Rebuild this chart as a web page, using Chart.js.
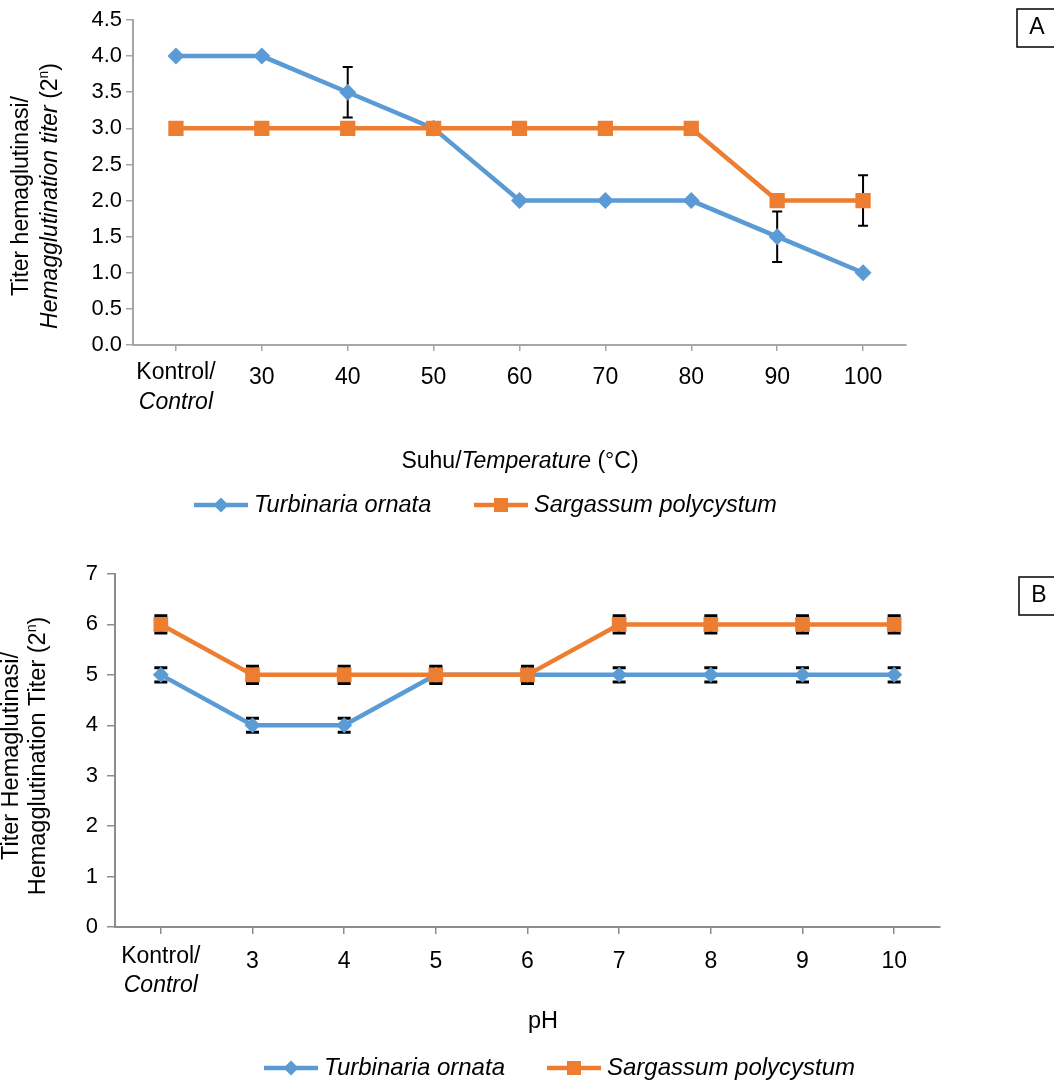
<!DOCTYPE html>
<html><head><meta charset="utf-8">
<script src="https://cdn.jsdelivr.net/npm/chart.js@4"></script>
<style>
html,body{margin:0;padding:0;background:#fff;width:1054px;height:1083px;overflow:hidden}
canvas{position:absolute;left:0}
#ca{top:0}
#cb{top:545px}
</style></head><body>
<canvas id="ca" width="1054" height="545"></canvas>
<canvas id="cb" width="1054" height="538"></canvas>
<script>
// ---------- DATA ----------
const seriesNames = ['Turbinaria ornata', 'Sargassum polycystum'];

const tempCategories = ['Kontrol/Control', '30', '40', '50', '60', '70', '80', '90', '100'];
const tempTurbinaria = [4.0, 4.0, 3.5, 3.0, 2.0, 2.0, 2.0, 1.5, 1.0];
const tempTurbinariaErr = [0, 0, 0.35, 0, 0, 0, 0, 0.35, 0];
const tempSargassum = [3.0, 3.0, 3.0, 3.0, 3.0, 3.0, 3.0, 2.0, 2.0];
const tempSargassumErr = [0, 0, 0, 0, 0, 0, 0, 0, 0.35];
const tempYMin = 0, tempYMax = 4.5, tempYStep = 0.5;

const phCategories = ['Kontrol/Control', '3', '4', '5', '6', '7', '8', '9', '10'];
const phTurbinaria = [5, 4, 4, 5, 5, 5, 5, 5, 5];
const phTurbinariaErr = [0.14, 0.14, 0.14, 0.14, 0.14, 0.14, 0.14, 0.14, 0.14];
const phSargassum = [6, 5, 5, 5, 5, 6, 6, 6, 6];
const phSargassumErr = [0.17, 0.17, 0.17, 0.17, 0.17, 0.17, 0.17, 0.17, 0.17];
const phYMin = 0, phYMax = 7, phYStep = 1;

// ---------- STYLE ----------
const BLUE = '#5B9BD5', ORANGE = '#ED7D31';
const FONT = '"Liberation Sans", Arial, sans-serif';

function fontStr(size, italic) { return (italic ? 'italic ' : '') + size + 'px ' + FONT; }
function richWidth(ctx, segs, size) {
  let w = 0;
  for (const s of segs) { ctx.font = fontStr(s.sup ? size * 0.6 : size, s.italic); w += ctx.measureText(s.t).width; }
  return w;
}
function drawRich(ctx, segs, cx, cy, size, rot, align) {
  ctx.save();
  ctx.translate(cx, cy);
  if (rot) ctx.rotate(rot);
  const w = richWidth(ctx, segs, size);
  let x = align === 'left' ? 0 : -w / 2;
  ctx.textBaseline = 'middle'; ctx.textAlign = 'left'; ctx.fillStyle = '#000';
  for (const s of segs) {
    const fs = s.sup ? size * 0.6 : size;
    ctx.font = fontStr(fs, s.italic);
    ctx.fillText(s.t, x, s.sup ? -size * 0.3 : 0);
    x += ctx.measureText(s.t).width;
  }
  ctx.restore();
}
function drawMarker(ctx, style, x, y, r, color) {
  ctx.save();
  ctx.fillStyle = color;
  ctx.beginPath();
  if (style === 'diamond') {
    ctx.moveTo(x - r, y); ctx.lineTo(x, y - r); ctx.lineTo(x + r, y); ctx.lineTo(x, y + r);
  } else {
    ctx.rect(x - r, y - r, 2 * r, 2 * r);
  }
  ctx.closePath(); ctx.fill();
  ctx.restore();
}

function makeChart(id, cfg) {
  const errPlugin = {
    id: 'errbars',
    beforeDatasetsDraw(chart) {
      const ctx = chart.ctx, xs = chart.scales.x, ys = chart.scales.y;
      ctx.save();
      ctx.strokeStyle = '#000';
      ctx.lineWidth = cfg.errWidth;
      chart.data.datasets.forEach((ds) => {
        ds.data.forEach((v, i) => {
          const e = ds.err[i];
          if (!e) return;
          const x = xs.getPixelForValue(i);
          const yt = ys.getPixelForValue(v + e), yb = ys.getPixelForValue(v - e);
          ctx.beginPath();
          ctx.moveTo(x, yt); ctx.lineTo(x, yb);
          ctx.moveTo(x - cfg.capHalf, yt); ctx.lineTo(x + cfg.capHalf, yt);
          ctx.moveTo(x - cfg.capHalf, yb); ctx.lineTo(x + cfg.capHalf, yb);
          ctx.stroke();
        });
      });
      ctx.restore();
    }
  };
  const textPlugin = {
    id: 'texts',
    afterDraw(chart) {
      const ctx = chart.ctx, xs = chart.scales.x, off = cfg.offsetTop;
      const fs = cfg.labFS;
      cfg.categories.forEach((lab, i) => {
        const x = xs.getPixelForValue(i);
        if (lab.indexOf('/') >= 0) {
          const parts = lab.split('/');
          drawRich(ctx, [{ t: parts[0] + '/' }], x, cfg.lab1Y - off, fs);
          drawRich(ctx, [{ t: parts[1], italic: true }], x, cfg.lab2Y - off, fs);
        } else {
          drawRich(ctx, [{ t: lab }], x, cfg.numY - off, fs);
        }
      });
      drawRich(ctx, cfg.xTitle, cfg.xTitleX, cfg.xTitleY - off, cfg.titleFS);
      drawRich(ctx, cfg.yTitle1, cfg.yT1X, cfg.yTitleY - off, cfg.titleFS, -Math.PI / 2);
      drawRich(ctx, cfg.yTitle2, cfg.yT2X, cfg.yTitleY - off, cfg.titleFS, -Math.PI / 2);
      // legend
      const lg = cfg.legend, ly = lg.y - off;
      ctx.save();
      ctx.lineWidth = 4.5;
      ctx.strokeStyle = BLUE;
      ctx.beginPath(); ctx.moveTo(lg.x1, ly); ctx.lineTo(lg.x1 + lg.len, ly); ctx.stroke();
      ctx.strokeStyle = ORANGE;
      ctx.beginPath(); ctx.moveTo(lg.x2, ly); ctx.lineTo(lg.x2 + lg.len, ly); ctx.stroke();
      ctx.restore();
      drawMarker(ctx, 'diamond', lg.x1 + lg.len / 2, ly, 7.5, BLUE);
      drawMarker(ctx, 'square', lg.x2 + lg.len / 2, ly, 7, ORANGE);
      drawRich(ctx, [{ t: seriesNames[0], italic: true }], lg.x1 + lg.len + 6, ly, lg.fs, 0, 'left');
      drawRich(ctx, [{ t: seriesNames[1], italic: true }], lg.x2 + lg.len + 6, ly, lg.fs, 0, 'left');
      // panel letter box
      const b = cfg.box;
      ctx.save();
      ctx.strokeStyle = '#000'; ctx.lineWidth = 1.5;
      ctx.strokeRect(b.x, b.y - off, 60, b.h);
      ctx.restore();
      drawRich(ctx, [{ t: b.t }], b.x + 20, b.y - off + b.h / 2, 23);
    }
  };
  return new Chart(document.getElementById(id), {
    type: 'line',
    data: {
      labels: cfg.categories,
      datasets: [
        { label: seriesNames[0], data: cfg.s1, err: cfg.e1, borderColor: BLUE, backgroundColor: BLUE,
          borderWidth: 4.5, pointStyle: 'rectRot', pointRadius: cfg.diaR, pointBorderWidth: 0,
          pointBackgroundColor: BLUE, tension: 0, order: 2 },
        { label: seriesNames[1], data: cfg.s2, err: cfg.e2, borderColor: ORANGE, backgroundColor: ORANGE,
          borderWidth: 4.5, pointStyle: 'rect', pointRadius: cfg.sqR, pointBorderWidth: 0,
          pointBackgroundColor: ORANGE, tension: 0, order: 1 }
      ]
    },
    options: {
      responsive: false, animation: false, devicePixelRatio: 1,
      layout: { padding: cfg.padding },
      plugins: { legend: { display: false }, tooltip: { enabled: false } },
      scales: {
        x: {
          type: 'category', offset: true,
          grid: { drawOnChartArea: false, drawTicks: true, tickLength: cfg.xTick, offset: false, color: cfg.axisColor, lineWidth: 1.5 },
          border: { color: cfg.axisColor, width: 2 },
          ticks: { display: false },
          afterFit(s) { s.height = cfg.xHeight; }
        },
        y: {
          min: cfg.yMin, max: cfg.yMax,
          grid: { drawOnChartArea: false, drawTicks: true, tickLength: cfg.yTick, color: cfg.axisColor, lineWidth: 1.5 },
          border: { color: cfg.axisColor, width: 2 },
          ticks: { stepSize: cfg.yStep, color: '#000', padding: cfg.yPad, font: { family: FONT, size: cfg.tickFS },
                   callback: (v) => cfg.yFmt(v) },
          afterFit(s) { s.width = cfg.yWidth; }
        }
      }
    },
    plugins: [errPlugin, textPlugin]
  });
}

makeChart('ca', {
  categories: tempCategories, s1: tempTurbinaria, e1: tempTurbinariaErr, s2: tempSargassum, e2: tempSargassumErr,
  yMin: tempYMin, yMax: tempYMax, yStep: tempYStep, yFmt: (v) => v.toFixed(1),
  padding: { left: 0, top: 20, right: 148, bottom: 0 }, yWidth: 133, xHeight: 200,
  xTick: 6, yTick: 7, yPad: 4, axisColor: '#a6a6a6', diaR: 8.5, sqR: 10.8, errWidth: 2, capHalf: 5,
  tickFS: 22, labFS: 23, titleFS: 23,
  offsetTop: 0, lab1Y: 373, lab2Y: 403, numY: 378, xTitleX: 520, xTitleY: 462,
  xTitle: [{ t: 'Suhu/' }, { t: 'Temperature', italic: true }, { t: ' (°C)' }],
  yTitle1: [{ t: 'Titer hemaglutinasi/' }],
  yTitle2: [{ t: 'Hemagglutination titer', italic: true }, { t: ' (2' }, { t: 'n', sup: true }, { t: ')' }],
  yT1X: 22, yT2X: 51, yTitleY: 196,
  legend: { y: 505, x1: 194, x2: 474, len: 54, fs: 23.5 },
  box: { x: 1017, y: 9, h: 38, t: 'A' }
});

makeChart('cb', {
  categories: phCategories, s1: phTurbinaria, e1: phTurbinariaErr, s2: phSargassum, e2: phSargassumErr,
  yMin: phYMin, yMax: phYMax, yStep: phYStep, yFmt: (v) => String(v),
  padding: { left: 0, top: 29, right: 114, bottom: 0 }, yWidth: 115, xHeight: 156,
  xTick: 7, yTick: 8, yPad: 9, axisColor: '#8c8c8c', diaR: 8, sqR: 10.4, errWidth: 3, capHalf: 6.5,
  tickFS: 22, labFS: 23, titleFS: 23.5,
  offsetTop: 545, lab1Y: 957, lab2Y: 986, numY: 962, xTitleX: 543, xTitleY: 1022,
  xTitle: [{ t: 'pH' }],
  yTitle1: [{ t: 'Titer Hemaglutinasi/' }],
  yTitle2: [{ t: 'Hemagglutination Titer (2' }, { t: 'n', sup: true }, { t: ')' }],
  yT1X: 12, yT2X: 39, yTitleY: 756,
  legend: { y: 1068, x1: 264, x2: 547, len: 54, fs: 24 },
  box: { x: 1019, y: 577, h: 38, t: 'B' }
});
</script>
</body></html>
